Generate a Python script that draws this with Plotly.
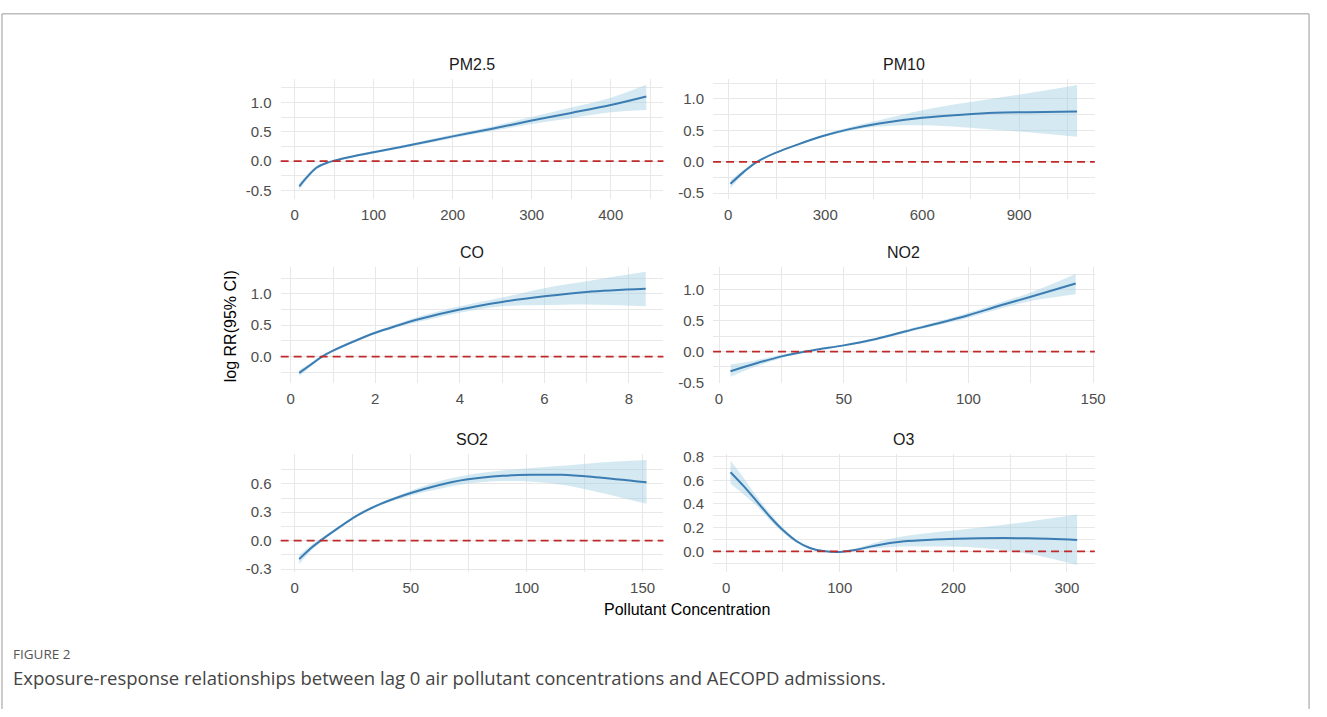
import plotly.graph_objects as go

W, H = 1327, 717

# ---------------- data ----------------
pm25_x = [6, 16, 28, 41, 50, 70, 100, 150, 200, 250, 300, 350, 400, 445]
pm25_fit = [-0.43, -0.27, -0.11, -0.03, 0.005, 0.068, 0.15, 0.28, 0.42, 0.55, 0.69, 0.82, 0.955, 1.10]
pm25_lo = [-0.49, -0.31, -0.14, -0.05, -0.01, 0.053, 0.13, 0.255, 0.39, 0.51, 0.63, 0.73, 0.83, 0.87]
pm25_hi = [-0.38, -0.23, -0.08, -0.01, 0.02, 0.083, 0.17, 0.305, 0.45, 0.59, 0.75, 0.91, 1.08, 1.30]

pm10_x = [7, 48, 89, 150, 212, 293, 375, 467, 600, 723, 825, 928, 1079]
pm10_fit = [-0.35, -0.16, 0.0, 0.15, 0.27, 0.41, 0.52, 0.61, 0.70, 0.75, 0.78, 0.79, 0.80]
pm10_lo = [-0.42, -0.19, -0.015, 0.135, 0.255, 0.39, 0.49, 0.56, 0.58, 0.55, 0.51, 0.47, 0.40]
pm10_hi = [-0.29, -0.13, 0.015, 0.165, 0.285, 0.43, 0.55, 0.66, 0.82, 0.93, 1.01, 1.09, 1.22]

co_x = [0.2, 0.47, 0.74, 1.0, 1.5, 2.0, 2.5, 3.0, 4.0, 5.0, 6.0, 7.0, 8.4]
co_fit = [-0.26, -0.13, 0.0, 0.095, 0.245, 0.38, 0.49, 0.59, 0.75, 0.87, 0.96, 1.03, 1.08]
co_lo = [-0.31, -0.16, -0.02, 0.08, 0.23, 0.36, 0.465, 0.55, 0.70, 0.80, 0.82, 0.83, 0.80]
co_hi = [-0.21, -0.10, 0.02, 0.11, 0.26, 0.40, 0.515, 0.63, 0.80, 0.94, 1.09, 1.20, 1.35]

no2_x = [4.6, 15, 26, 34, 40, 50, 63, 75, 88, 100, 113, 125, 143]
no2_fit = [-0.32, -0.19, -0.07, -0.005, 0.037, 0.10, 0.205, 0.33, 0.46, 0.59, 0.75, 0.89, 1.105]
no2_lo = [-0.41, -0.24, -0.095, -0.015, 0.027, 0.085, 0.185, 0.305, 0.43, 0.55, 0.70, 0.82, 0.93]
no2_hi = [-0.21, -0.14, -0.045, 0.005, 0.047, 0.115, 0.225, 0.355, 0.49, 0.63, 0.80, 0.96, 1.26]

so2_x = [1.9, 6.9, 11.1, 16.8, 26.8, 36.8, 49.7, 61.1, 73.9, 89.6, 103.9, 115.3, 129.6, 151.7]
so2_fit = [-0.195, -0.08, 0.0, 0.10, 0.265, 0.385, 0.50, 0.58, 0.645, 0.685, 0.695, 0.695, 0.67, 0.617]
so2_lo = [-0.25, -0.11, -0.02, 0.085, 0.25, 0.37, 0.475, 0.54, 0.60, 0.63, 0.62, 0.59, 0.52, 0.39]
so2_hi = [-0.15, -0.05, 0.02, 0.115, 0.28, 0.40, 0.525, 0.62, 0.69, 0.74, 0.77, 0.79, 0.82, 0.85]

o3_x = [3.8, 15.4, 27.1, 38.7, 50.4, 62, 73.7, 85.3, 99.9, 114.5, 132, 155, 184, 222, 266, 309]
o3_fit = [0.668, 0.55, 0.42, 0.29, 0.175, 0.085, 0.028, 0.003, -0.005, 0.014, 0.05, 0.082, 0.099, 0.11, 0.11, 0.096]
o3_lo = [0.57, 0.48, 0.38, 0.26, 0.155, 0.07, 0.02, -0.002, -0.01, 0.003, 0.025, 0.04, 0.04, 0.03, -0.02, -0.115]
o3_hi = [0.764, 0.62, 0.46, 0.32, 0.195, 0.098, 0.036, 0.008, 0.0, 0.025, 0.075, 0.125, 0.16, 0.20, 0.25, 0.31]

panel_titles = ["PM2.5", "PM10", "CO", "NO2", "SO2", "O3"]

x_ticks = [[0, 100, 200, 300, 400], [0, 300, 600, 900], [0, 2, 4, 6, 8],
           [0, 50, 100, 150], [0, 50, 100, 150], [0, 100, 200, 300]]
x_minor = [[50, 150, 250, 350, 450], [150, 450, 750, 1050], [1, 3, 5, 7],
           [25, 75, 125], [25, 75, 125], [50, 150, 250]]
y_ticks = [[-0.5, 0.0, 0.5, 1.0], [-0.5, 0.0, 0.5, 1.0], [0.0, 0.5, 1.0],
           [-0.5, 0.0, 0.5, 1.0], [-0.3, 0.0, 0.3, 0.6], [0.0, 0.2, 0.4, 0.6, 0.8]]
y_tick_labels = [["-0.5", "0.0", "0.5", "1.0"], ["-0.5", "0.0", "0.5", "1.0"], ["0.0", "0.5", "1.0"],
                 ["-0.5", "0.0", "0.5", "1.0"], ["-0.3", "0.0", "0.3", "0.6"],
                 ["0.0", "0.2", "0.4", "0.6", "0.8"]]
y_minor = [[-0.25, 0.25, 0.75, 1.25], [-0.25, 0.25, 0.75, 1.25], [-0.25, 0.25, 0.75, 1.25],
           [-0.25, 0.25, 0.75, 1.25], [-0.15, 0.15, 0.45, 0.75], [-0.1, 0.1, 0.3, 0.5, 0.7]]

ref_level = 0.0

y_label = "log RR(95% CI)"
x_label = "Pollutant Concentration"
fig_label = "FIGURE 2"
caption = "Exposure-response relationships between lag 0 air pollutant concentrations and AECOPD admissions."

series = [
    (pm25_x, pm25_fit, pm25_lo, pm25_hi),
    (pm10_x, pm10_fit, pm10_lo, pm10_hi),
    (co_x, co_fit, co_lo, co_hi),
    (no2_x, no2_fit, no2_lo, no2_hi),
    (so2_x, so2_fit, so2_lo, so2_hi),
    (o3_x, o3_fit, o3_lo, o3_hi),
]

# ---------------- layout geometry (pixels) ----------------
cols_px = [(283, 669), (719, 1104)]
rows_px = [(74, 196), (266, 384), (457, 577)]
x_ranges = [[-17.6, 466.7], [-47, 1134], [-0.24, 8.82], [-2.4, 150.7], [-6.1, 159], [-11.6, 324.6]]
y_ranges = [[-0.645, 1.39], [-0.59, 1.31], [-0.42, 1.42], [-0.51, 1.365], [-0.33, 0.91], [-0.174, 0.818]]


def fx(px):
    return px / W


def fy(py):
    return 1 - py / H


FONT = "Liberation Sans, Arial, sans-serif"
CAP_FONT = "Open Sans, Lato, sans-serif"
GRID = "#E8E8E8"
LINE_COL = "#3B7DB2"
BAND_COL = "rgba(160,206,226,0.45)"
REF_COL = "#BE2A2A"
SMOOTH = 1.0

fig = go.Figure()
annotations = []
shapes = []

for i, (xs, fit, lo, hi) in enumerate(series):
    r, c = divmod(i, 2)
    n = i + 1
    xa = "x" if n == 1 else f"x{n}"
    ya = "y" if n == 1 else f"y{n}"
    fig.add_trace(go.Scatter(x=xs, y=hi, mode="lines", line=dict(width=0, shape="spline", smoothing=SMOOTH),
                             xaxis=xa, yaxis=ya, showlegend=False, hoverinfo="skip"))
    fig.add_trace(go.Scatter(x=xs, y=lo, mode="lines", line=dict(width=0, shape="spline", smoothing=SMOOTH),
                             fill="tonexty", fillcolor=BAND_COL,
                             xaxis=xa, yaxis=ya, showlegend=False, hoverinfo="skip"))
    fig.add_trace(go.Scatter(x=xs, y=fit, mode="lines",
                             line=dict(color=LINE_COL, width=2, shape="spline", smoothing=SMOOTH),
                             xaxis=xa, yaxis=ya, showlegend=False))

    x0, x1 = cols_px[c]
    y0, y1 = rows_px[r]
    xkey = "xaxis" if n == 1 else f"xaxis{n}"
    ykey = "yaxis" if n == 1 else f"yaxis{n}"
    fig.layout[xkey] = dict(
        domain=[fx(x0), fx(x1)], anchor=ya, range=x_ranges[i],
        tickmode="array", tickvals=x_ticks[i], ticktext=[str(v) for v in x_ticks[i]],
        showgrid=True, gridcolor=GRID, gridwidth=1.3, zeroline=False, showline=False,
        ticks="", ticklabelstandoff=5,
        tickfont=dict(family=FONT, size=15, color="#4D4D4D"),
        minor=dict(tickvals=x_minor[i], showgrid=True, gridcolor=GRID, gridwidth=0.7, ticks=""),
    )
    fig.layout[ykey] = dict(
        domain=[fy(y1), fy(y0)], anchor=xa, range=y_ranges[i],
        tickmode="array", tickvals=y_ticks[i], ticktext=y_tick_labels[i],
        showgrid=True, gridcolor=GRID, gridwidth=1.3, zeroline=False, showline=False,
        ticks="", ticklabelstandoff=8,
        tickfont=dict(family=FONT, size=15, color="#4D4D4D"),
        minor=dict(tickvals=y_minor[i], showgrid=True, gridcolor=GRID, gridwidth=0.7, ticks=""),
    )
    shapes.append(dict(type="line", xref=f"{xa} domain", yref=ya, x0=0, x1=1, y0=ref_level, y1=ref_level,
                       line=dict(color=REF_COL, width=1.7, dash="8px,5px"), layer="above"))
    annotations.append(dict(text=panel_titles[i], xref="paper", yref="paper",
                            x=fx((x0 + x1) / 2), y=fy(y0 - 15), xanchor="center", yanchor="middle",
                            showarrow=False, font=dict(family=FONT, size=16, color="#1A1A1A")))

annotations.append(dict(text=y_label, xref="paper", yref="paper", x=fx(232), y=fy(326),
                        textangle=-90, xanchor="center", yanchor="middle", showarrow=False,
                        font=dict(family=FONT, size=16, color="#000000")))
annotations.append(dict(text=x_label, xref="paper", yref="paper", x=fx(693), y=fy(615),
                        xanchor="center", yanchor="middle", showarrow=False,
                        font=dict(family=FONT, size=16, color="#000000")))
annotations.append(dict(text=fig_label, xref="paper", yref="paper", x=fx(11), y=fy(661),
                        xanchor="left", yanchor="middle", showarrow=False,
                        font=dict(family=CAP_FONT, size=13.5, color="#555555")))
annotations.append(dict(text=caption, xref="paper", yref="paper", x=fx(11), y=fy(685),
                        xanchor="left", yanchor="middle", showarrow=False,
                        font=dict(family=CAP_FONT, size=18.5, color="#444444")))

# page frame
frame = dict(color="#9A9A9A", width=1)
shapes.append(dict(type="line", xref="paper", yref="paper", x0=fx(2), x1=fx(1320), y0=fy(7), y1=fy(7), line=frame))
shapes.append(dict(type="line", xref="paper", yref="paper", x0=fx(2), x1=fx(2), y0=fy(7), y1=0, line=frame))
shapes.append(dict(type="line", xref="paper", yref="paper", x0=fx(1320), x1=fx(1320), y0=fy(7), y1=0, line=frame))

fig.update_layout(
    width=W, height=H, margin=dict(l=0, r=0, t=0, b=0),
    paper_bgcolor="white", plot_bgcolor="white",
    annotations=annotations, shapes=shapes, showlegend=False,
)

fig.write_html(
    "out.html",
    config={"displayModeBar": False},
    post_script=(
        "document.documentElement.style.margin='0';document.documentElement.style.overflow='hidden';"
        "document.body.style.margin='0';document.body.style.overflow='hidden';"
        "var gd=document.getElementById('{plot_id}');"
        "gd.style.position='fixed';gd.style.left='0px';gd.style.top='0px';"
    ),
)
